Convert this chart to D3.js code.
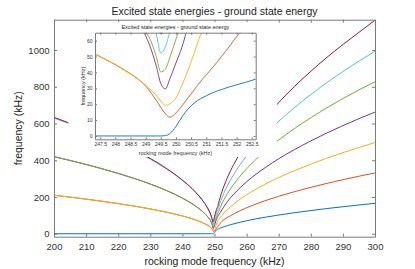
<!DOCTYPE html>
<html>
<head>
<meta charset="utf-8">
<script src="https://cdn.jsdelivr.net/npm/d3@7"></script>
<style>
  body { margin: 0; background: #fff; }
  text { font-family: "Liberation Sans", Arial, sans-serif; }
</style>
</head>
<body>
<div class="chart"></div>
<script>
// rocking mode frequency (kHz), shared by every level
let rockFreq = [200, 205, 210, 215, 220, 225, 230, 235, 240, 243, 245, 246, 247, 247.3, 247.5, 248, 248.5, 248.75,
  249, 249.2, 249.35, 249.5, 249.65, 249.8, 250, 250.2, 250.4, 250.6, 250.8, 251, 251.25, 251.5, 251.75,
  252, 252.3, 252.7, 253, 254, 255, 256, 258, 260, 263, 266, 270, 275, 280, 285, 290, 295, 300];

// excited state n minus ground state (kHz)
let level1 = [0, 0, 0, 0, 0, 0, 0, 0, 0, 0, 0, 0, 0, 0, 0, 0, 0, 0,
  0, 0, 0, 0, 0.2, 1.5, 6, 12, 17, 20.7, 23.3, 25.3, 27.5, 29.2, 30.8,
  32.2, 33.8, 36.2, 38.3, 44, 49.3, 54, 62.8, 70.7, 81.2, 90.6, 102, 114.7, 126.3, 137.1, 147.1, 156.6, 165.5];
let level2 = [209.7, 199.4, 188.5, 176.8, 164.2, 150.5, 135.2, 117.8, 97, 81.8, 69.6, 62.6, 54.5, 51.8, 49.9, 44.9, 39.1, 35.8,
  31.5, 26.5, 22.5, 18, 14, 11.8, 14.5, 19, 24, 29, 34, 38.5, 44, 50, 56,
  62.5, 68, 73.5, 77, 88.5, 98.5, 108, 125.6, 141.4, 162.4, 181.2, 204, 229.4, 252.6, 274.2, 294.2, 313.2, 331];
let level3 = [209.7, 199.4, 188.5, 176.8, 164.2, 150.5, 135.2, 117.8, 97, 81.8, 69.6, 62.6, 54.5, 51.8, 49.9, 44.9, 39.1, 35.8,
  32, 28.5, 25.5, 22, 19.3, 20.3, 24, 32, 41.5, 52, 63, 69, 75, 81, 87,
  92.5, 99, 107, 113, 131, 147, 161.7, 188.4, 212.1, 243.6, 271.8, 306, 344.1, 378.9, 411.3, 441.3, 469.8, 496.5];
let level4 = [419.4, 398.8, 377, 353.6, 328.4, 301, 270.4, 235.6, 194, 163.6, 139.2, 125.2, 109, 103.6, 99.8, 89.8, 78.2, 71.4,
  63, 53.5, 44, 33, 29.6, 36, 46, 56, 69, 78, 86, 93, 101, 108, 114.5,
  121, 130, 141.2, 149.6, 174, 196, 215.6, 251.2, 282.8, 324.8, 362.4, 408, 458.8, 505.2, 548.4, 588.4, 626.4, 662];
let level5 = [420, 399.5, 377.5, 354, 328.8, 301.4, 270.8, 236, 194.4, 164, 139.6, 125.6, 109.4, 104, 100.2, 90.2, 78.8, 72.4,
  66, 58.5, 50, 40.3, 42, 49.5, 61, 72, 83, 93, 102, 110, 119.5, 130, 141,
  151, 162.5, 176.5, 187, 217.5, 245, 269.5, 314, 353.5, 406, 453, 510, 573.5, 631.5, 685.5, 735.5, 783, 827.5];
let level6 = [629, 598, 565.5, 530.4, 492.6, 451.5, 405.6, 353.4, 291, 245.4, 208.8, 187.8, 163.5, 155.4, 149.7, 134.7, 117.3, 106,
  91, 77, 64.5, 52.3, 56, 66, 79, 92, 103, 113, 122, 131, 143, 156, 169,
  181.2, 195, 211.8, 224.4, 261, 294, 323.4, 376.8, 424.2, 487.2, 543.6, 612, 688.2, 757.8, 822.6, 882.6, 939.6, 993];
let level7 = [634, 601, 568, 533, 495, 454, 410, 356, 292, 246, 209.5, 188.5, 164.2, 156, 150.3, 135.4, 118.2, 108.5,
  96, 85, 74, 64.4, 68, 78, 93, 108, 120, 131, 140, 148, 164.5, 181.3, 196.7,
  211.4, 227.5, 247.1, 261.8, 304.5, 343, 377.3, 439.6, 494.9, 568.4, 634.2, 714, 802.9, 884.1, 959.7, 1029.7, 1096.2, 1162];

let levels = [level1, level2, level3, level4, level5, level6, level7];
let levelColors = ['#0072BD', '#D95319', '#EDB120', '#7E2F8E', '#77AC30', '#4DBEEE', '#A2142F'];

let mainXTicks = [200, 210, 220, 230, 240, 250, 260, 270, 280, 290, 300];
let mainYTicks = [0, 200, 400, 600, 800, 1000];
let insetXTicks = [247.5, 248, 248.5, 249, 249.5, 250, 250.5, 251, 251.5, 252, 252.5];
let insetYTicks = [0, 10, 20, 30, 40, 50, 60];

let titleText = 'Excited state energies - ground state energy';
let xLabelText = 'rocking mode frequency (kHz)';
let yLabelText = 'frequency (kHz)';

var W = 415, H = 269;
var margin = {top: 19.7, right: 40, bottom: 32.3, left: 54};
var width = W - margin.left - margin.right;
var height = H - margin.top - margin.bottom;
var axisColor = '#7a7a7a';
var labelColor = '#333';

let root = d3.select('.chart')
  .append('svg')
  .attr('width', W)
  .attr('height', H);

// main axes
let svg = root.append('g')
  .attr('transform', `translate(${margin.left}, ${margin.top})`);

let xScale = d3.scaleLinear().domain([200, 300]).range([0, width]);
let yScale = d3.scaleLinear().domain([-16, 1165]).range([height, 0]);

svg.append('clipPath').attr('id', 'mainClip')
  .append('rect').attr('width', width).attr('height', height);

function drawLevels(g, xs, ys, lw) {
  levels.forEach((vals, k) => {
    let path = d3.line()
      .x((d, i) => xs(rockFreq[i]))
      .y(d => ys(d))
      .curve(d3.curveMonotoneX);
    g.append('path')
      .datum(vals)
      .attr('d', path)
      .attr('fill', 'none')
      .attr('stroke', levelColors[k])
      .attr('stroke-width', lw);
  });
}

drawLevels(svg.append('g').attr('clip-path', 'url(#mainClip)'), xScale, yScale, 1);

function styleAxis(g, fs) {
  g.select('.domain').attr('stroke', axisColor);
  g.selectAll('.tick line').attr('stroke', axisColor);
  g.selectAll('.tick text').attr('fill', labelColor).style('font-size', fs + 'px');
  g.attr('font-family', null);
}

svg.append('g')
  .attr('transform', `translate(0, ${height})`)
  .call(d3.axisBottom(xScale).tickValues(mainXTicks).tickSize(-3).tickSizeOuter(0).tickPadding(7))
  .call(g => styleAxis(g, 9.5));
svg.append('g')
  .call(d3.axisTop(xScale).tickValues(mainXTicks).tickSize(-3).tickSizeOuter(0).tickFormat(''))
  .call(g => styleAxis(g, 9.5));
svg.append('g')
  .call(d3.axisLeft(yScale).tickValues(mainYTicks).tickSize(-3).tickSizeOuter(0).tickPadding(4.5).tickFormat(d3.format('d')))
  .call(g => styleAxis(g, 9.5));
svg.append('g')
  .attr('transform', `translate(${width}, 0)`)
  .call(d3.axisRight(yScale).tickValues(mainYTicks).tickSize(-3).tickSizeOuter(0).tickFormat(''))
  .call(g => styleAxis(g, 9.5));

root.append('text')
  .attr('x', margin.left + width / 2)
  .attr('y', 15.3)
  .attr('text-anchor', 'middle')
  .style('font-size', '10.5px')
  .style('fill', '#222')
  .text(titleText);

root.append('text')
  .attr('x', margin.left + width / 2)
  .attr('y', 264.6)
  .attr('text-anchor', 'middle')
  .style('font-size', '10.5px')
  .style('fill', '#222')
  .text(xLabelText);

root.append('text')
  .attr('transform', `translate(22, ${margin.top + height / 2}) rotate(-90)`)
  .attr('text-anchor', 'middle')
  .style('font-size', '10.5px')
  .style('fill', '#222')
  .text(yLabelText);

// inset: white backdrop first, it hides the main curves beneath
root.append('rect')
  .attr('x', 68.3)
  .attr('y', 22)
  .attr('width', 277 - 68.3)
  .attr('height', 157 - 22)
  .attr('fill', '#fff');

var inset = {left: 95, top: 32.7, width: 160.7, height: 106.6};
let ig = root.append('g')
  .attr('transform', `translate(${inset.left}, ${inset.top})`);

let ixScale = d3.scaleLinear().domain([247.33, 252.63]).range([0, inset.width]);
let iyScale = d3.scaleLinear().domain([-2.1, 65]).range([inset.height, 0]);

ig.append('clipPath').attr('id', 'insetClip')
  .append('rect').attr('width', inset.width).attr('height', inset.height);

drawLevels(ig.append('g').attr('clip-path', 'url(#insetClip)'), ixScale, iyScale, 0.9);

ig.append('g')
  .attr('transform', `translate(0, ${inset.height})`)
  .call(d3.axisBottom(ixScale).tickValues(insetXTicks).tickSize(-2).tickSizeOuter(0).tickPadding(3.5).tickFormat(d3.format('')))
  .call(g => styleAxis(g, 5));
ig.append('g')
  .call(d3.axisTop(ixScale).tickValues(insetXTicks).tickSize(-2).tickSizeOuter(0).tickFormat(''))
  .call(g => styleAxis(g, 5));
ig.append('g')
  .call(d3.axisLeft(iyScale).tickValues(insetYTicks).tickSize(-2).tickSizeOuter(0).tickPadding(2.5))
  .call(g => styleAxis(g, 5));
ig.append('g')
  .attr('transform', `translate(${inset.width}, 0)`)
  .call(d3.axisRight(iyScale).tickValues(insetYTicks).tickSize(-2).tickSizeOuter(0).tickFormat(''))
  .call(g => styleAxis(g, 5));

ig.append('text')
  .attr('x', inset.width / 2)
  .attr('y', -3.3)
  .attr('text-anchor', 'middle')
  .style('font-size', '5.5px')
  .style('fill', '#222')
  .text(titleText);

ig.append('text')
  .attr('x', inset.width / 2)
  .attr('y', inset.height + 16)
  .attr('text-anchor', 'middle')
  .style('font-size', '5.5px')
  .style('fill', '#333')
  .text(xLabelText);

ig.append('text')
  .attr('transform', `translate(-10, ${inset.height / 2}) rotate(-90)`)
  .attr('text-anchor', 'middle')
  .style('font-size', '5.5px')
  .style('fill', '#333')
  .text(yLabelText);
</script>
</body>
</html>
